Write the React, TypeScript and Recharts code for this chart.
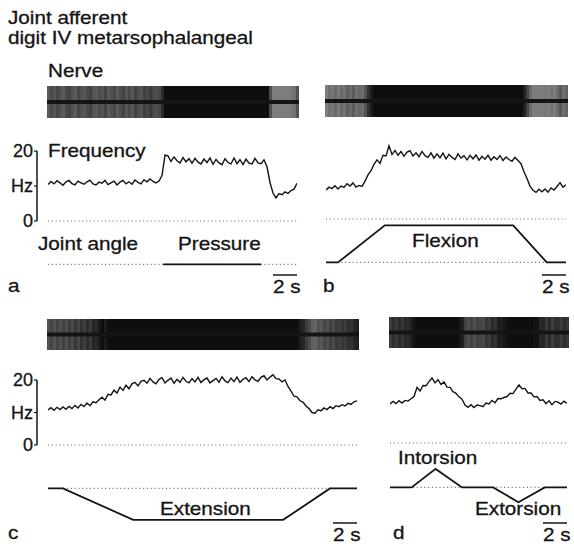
import React from "react";
import {
  LineChart,
  Line,
  XAxis,
  YAxis,
  ReferenceLine,
  ReferenceArea,
  BarChart,
  Bar,
  Cell,
} from "recharts";

// time base: one frequency sample every STEP seconds
const STEP = 0.25;
const PX_PER_S = 12;
const DEG_PX = 1.85;
const INK = "#141414";
const DOTS = "#7c7c7c";
const FONT = "'Liberation Sans', Arial, Helvetica, sans-serif";

// instantaneous frequency (Hz)
const freqA = [
  10.4, 11.3, 10.6, 11.5, 10.9, 10.2, 11.2, 11.6, 10.7, 10.3, 11.4, 10.9, 10.5, 11.2, 11.7, 10.6,
  10.3, 11.1, 10.8, 11.6, 10.4, 10.9, 11.4, 10.3, 11.1, 11.6, 10.6, 11.2, 10.5, 11.7, 11.0, 10.6,
  11.8, 11.2, 12.0, 11.3, 10.9, 11.4, 13.0, 18.8, 18.6, 17.0, 18.3, 17.2, 16.6, 18.1, 16.9, 17.8,
  16.5, 17.9, 16.8, 16.3, 17.7, 16.7, 18.0, 16.2, 17.6, 16.6, 16.1, 17.8, 16.7, 16.3, 18.0, 16.4,
  17.5, 16.1, 17.7, 16.5, 16.3, 17.9, 16.6, 16.4, 17.5, 15.5, 11.0, 8.0, 6.6, 7.8, 7.5, 8.3,
  7.9, 8.7, 9.1, 10.8,
];
const freqB = [
  8.3, 9.1, 8.7, 9.5, 8.6, 9.4, 9.0, 10.1, 9.4, 10.3, 9.1, 9.6, 9.3, 10.8, 12.6, 13.8, 15.6, 16.9,
  15.9, 18.2, 18.0, 20.9, 18.4, 19.6, 18.2, 19.3, 17.9, 19.1, 19.5, 18.0, 18.9, 17.8, 19.3, 18.1,
  17.6, 18.9, 17.4, 18.6, 17.5, 18.8, 17.2, 18.5, 17.6, 17.0, 18.6, 17.4, 18.1, 16.9, 18.2, 17.2,
  18.3, 16.8, 17.9, 17.1, 18.2, 16.8, 17.8, 17.0, 18.1, 16.7, 17.7, 17.0, 16.5, 17.6, 16.7, 15.8,
  13.5, 11.6, 9.4, 8.2, 7.6, 8.5, 7.8, 8.6, 7.7, 8.9, 8.3, 9.3, 10.4, 9.1, 9.8,
];
const freqC = [
  10.8, 11.5, 10.7, 11.6, 10.9, 11.7, 11.0, 11.9, 11.2, 12.2, 11.4, 12.5, 11.8, 12.9, 12.1, 13.3,
  13.0, 13.9, 14.7, 13.8, 15.6, 15.4, 16.9, 16.0, 17.8, 16.8, 18.4, 17.3, 18.8, 19.3, 18.2, 19.6,
  19.9, 19.0, 20.5, 19.4, 18.8, 20.2, 20.7, 19.1, 19.9, 20.6, 19.0, 20.2, 19.3, 20.8, 19.6, 19.1,
  20.4, 19.4, 20.8, 19.2, 20.1, 20.6, 19.1, 19.8, 20.5, 19.3, 21.0, 19.7, 19.2, 20.6, 19.5, 20.9,
  19.3, 20.2, 20.7, 19.5, 21.0, 20.0, 19.6, 20.8, 21.3, 20.0, 20.9, 21.6, 20.4, 20.3, 19.4, 20.0,
  18.0, 16.6, 15.0, 14.8, 13.6, 13.2, 12.0, 11.2, 10.0, 9.8, 10.8, 10.5, 11.4, 10.9, 11.8, 11.2,
  12.1, 11.8, 12.4, 12.0, 12.8, 12.5, 13.3, 13.6,
];
const freqD = [
  12.0, 12.8, 12.1, 13.0, 12.3, 13.1, 12.9, 13.6, 14.3, 17.1, 16.0, 17.7, 17.6, 18.9, 20.0, 18.5,
  19.5, 18.0, 18.8, 17.2, 17.1, 15.8, 15.3, 14.2, 13.5, 11.7, 11.0, 11.8, 10.9, 11.7, 11.5, 11.2,
  12.3, 12.0, 13.1, 12.4, 13.7, 13.6, 14.0, 14.3, 15.3, 15.2, 16.6, 17.9, 16.7, 16.8, 15.4, 15.4,
  14.2, 14.3, 13.1, 13.3, 12.1, 13.0, 11.8, 12.8, 12.6, 12.0, 12.9, 12.2,
];

// joint movements: breakpoints (s) and angle (deg, + flexion / intorsion)
const pressureT = [9.6, 17.75];
const pressureDeg = [0, 0];
const flexionT = [0, 1.0, 4.9, 15.6, 18.4, 20.0];
const flexionDeg = [0, 0, 20, 20, 0, 0];
const extensionT = [0, 1.25, 7.1, 19.6, 23.5, 25.75];
const extensionDeg = [0, 0, -17, -17, 0, 0];
const torsionT = [0, 1.8, 3.8, 6.0, 8.6, 10.7, 12.9, 14.75];
const torsionDeg = [0, 0, 10, 0, 0, -8, 0, 0];

const HZ_TICKS = [0, 10, 20];

const sampled = (vals: number[]) => vals.map((v, i) => ({ t: i * STEP, v }));
const pairs = (ts: number[], vs: number[]) => ts.map((t, i) => ({ t, v: vs[i] }));
const span = (vals: number[]) => (vals.length - 1) * STEP;

// darker band where the unit fires faster
const grey = (hz: number) => {
  const l = Math.max(14, Math.min(125, Math.round(132 - (hz - 8) * 18)));
  return `rgb(${l},${l},${l})`;
};

const noMargin = { top: 0, right: 0, bottom: 0, left: 0 };

function Nerve({ id, x, top, h, rates }: { id: string; x: number; top: number; h: number; rates: number[] }) {
  const bw = STEP * PX_PER_S;
  const data = rates.map((r, i) => ({ t: i * STEP, r, amp: [-1, 1] }));
  return (
    <div style={{ position: "absolute", left: x - bw / 2, top }}>
      <BarChart width={rates.length * bw} height={h} data={data} margin={noMargin} barCategoryGap={0} barGap={0}>
        <defs>
          <pattern id={`st-${id}`} patternUnits="userSpaceOnUse" width={9} height={6}>
            <rect x={0} y={0} width={1} height={6} fill="#000" fillOpacity={0.6} />
            <rect x={2} y={0} width={1} height={6} fill="#fff" fillOpacity={0.3} />
            <rect x={3} y={0} width={1} height={6} fill="#000" fillOpacity={0.45} />
            <rect x={5} y={0} width={1} height={6} fill="#fff" fillOpacity={0.22} />
            <rect x={6} y={0} width={2} height={6} fill="#000" fillOpacity={0.4} />
            <rect x={8} y={0} width={1} height={6} fill="#fff" fillOpacity={0.3} />
          </pattern>
          <linearGradient id={`ed-${id}`} x1="0" y1="0" x2="0" y2="1">
            <stop offset="0%" stopColor="#fff" stopOpacity={0.5} />
            <stop offset="16%" stopColor="#fff" stopOpacity={0} />
            <stop offset="84%" stopColor="#fff" stopOpacity={0} />
            <stop offset="100%" stopColor="#fff" stopOpacity={0.5} />
          </linearGradient>
        </defs>
        <XAxis hide dataKey="t" />
        <YAxis hide domain={[-1, 1]} />
        <Bar dataKey="amp" isAnimationActive={false}>
          {data.map((d, i) => (
            <Cell key={i} fill={grey(d.r)} />
          ))}
        </Bar>
        <ReferenceArea y1={-1} y2={1} fill={`url(#st-${id})`} fillOpacity={1} />
        <ReferenceArea y1={-1} y2={1} fill={`url(#ed-${id})`} fillOpacity={1} />
        <ReferenceLine y={0} stroke={INK} strokeWidth={4} />
      </BarChart>
    </div>
  );
}

function Trace({
  x, y0, dur, lo, hi, ppu, data, width,
}: { x: number; y0: number; dur: number; lo: number; hi: number; ppu: number; data: { t: number; v: number }[]; width: number }) {
  return (
    <div style={{ position: "absolute", left: x, top: y0 - hi * ppu }}>
      <LineChart width={dur * PX_PER_S} height={(hi - lo) * ppu} data={data} margin={noMargin}>
        <XAxis hide type="number" dataKey="t" domain={[0, dur]} />
        <YAxis hide domain={[lo, hi]} />
        <ReferenceLine y={0} stroke={DOTS} strokeWidth={1.2} strokeDasharray="1.2 2.6" />
        <Line
          type="linear"
          dataKey="v"
          stroke={INK}
          strokeWidth={width}
          dot={false}
          isAnimationActive={false}
        />
      </LineChart>
    </div>
  );
}

function HzAxis({ y0, ppu }: { y0: number; ppu: number }) {
  const pad = 12;
  return (
    <div style={{ position: "absolute", left: 0, top: y0 - 20 * ppu - pad }}>
      <LineChart
        width={40}
        height={20 * ppu + 2 * pad}
        data={HZ_TICKS.map((v) => ({ v }))}
        margin={{ top: pad, bottom: pad, left: 0, right: 3 }}
      >
        <XAxis hide dataKey="v" />
        <YAxis
          dataKey="v"
          width={37}
          type="number"
          domain={[0, 20]}
          ticks={HZ_TICKS}
          interval={0}
          tickSize={3}
          tickMargin={1}
          tickFormatter={(v: number) => (v === 10 ? "Hz" : String(v))}
          axisLine={{ stroke: INK, strokeWidth: 1.5 }}
          tickLine={{ stroke: INK, strokeWidth: 1.2 }}
          tick={{ fill: INK, fontSize: 18, fontFamily: FONT, stroke: INK, strokeWidth: 0.3 }}
        />
      </LineChart>
    </div>
  );
}

const Label = ({ x, y, children }: { x: number; y: number; children: React.ReactNode }) => (
  <text
    transform={`translate(${x},${y}) scale(1.15,1)`}
    fontSize={18}
    fill={INK}
    stroke={INK}
    strokeWidth={0.3}
  >
    {children}
  </text>
);

const ScaleBar = ({ end, y }: { end: number; y: number }) => {
  const len = 2 * PX_PER_S;
  return (
    <g>
      <line x1={end - len} x2={end} y1={y} y2={y} stroke={INK} strokeWidth={1.5} />
      <Label x={end - len} y={y + 18}>2 s</Label>
    </g>
  );
};

export default function App() {
  const durA = span(freqA);
  const durB = span(freqB);
  const durC = span(freqC);
  const durD = span(freqD);
  return (
    <div
      style={{
        position: "absolute",
        left: 0,
        top: 0,
        width: 574,
        height: 544,
        background: "#fff",
        fontFamily: FONT,
        overflow: "hidden",
      }}
    >
      {/* a: pressure */}
      <Nerve id="a" x={48} top={86} h={32} rates={freqA} />
      <HzAxis y0={221} ppu={3.5} />
      <Trace x={48} y0={221} dur={durA} lo={-2} hi={24} ppu={3.5} data={sampled(freqA)} width={1.4} />
      <Trace x={48} y0={264} dur={durA} lo={-20} hi={24} ppu={DEG_PX} data={pairs(pressureT, pressureDeg)} width={1.8} />

      {/* b: flexion */}
      <Nerve id="b" x={326} top={85} h={32} rates={freqB} />
      <Trace x={326} y0={219} dur={durB} lo={-2} hi={24} ppu={3.5} data={sampled(freqB)} width={1.4} />
      <Trace x={326} y0={262} dur={durB} lo={-20} hi={24} ppu={DEG_PX} data={pairs(flexionT, flexionDeg)} width={1.8} />

      {/* c: extension */}
      <Nerve id="c" x={48} top={319} h={31} rates={freqC} />
      <HzAxis y0={445} ppu={3.25} />
      <Trace x={48} y0={445} dur={durC} lo={-2} hi={24} ppu={3.25} data={sampled(freqC)} width={1.4} />
      <Trace x={48} y0={488} dur={durC} lo={-20} hi={24} ppu={DEG_PX} data={pairs(extensionT, extensionDeg)} width={1.8} />

      {/* d: torsion */}
      <Nerve id="d" x={390} top={317} h={31} rates={freqD} />
      <Trace x={390} y0={443} dur={durD} lo={-2} hi={24} ppu={3.25} data={sampled(freqD)} width={1.4} />
      <Trace x={390} y0={487} dur={durD} lo={-20} hi={24} ppu={DEG_PX} data={pairs(torsionT, torsionDeg)} width={1.8} />

      <svg width={574} height={544} style={{ position: "absolute", left: 0, top: 0, pointerEvents: "none" }} fontFamily={FONT}>
        <Label x={8} y={24}>Joint afferent</Label>
        <Label x={8} y={44}>digit IV metarsophalangeal</Label>
        <Label x={48} y={77}>Nerve</Label>
        <Label x={48} y={157}>Frequency</Label>
        <Label x={38} y={250}>Joint angle</Label>
        <Label x={178} y={250}>Pressure</Label>
        <Label x={8} y={292}>a</Label>
        <ScaleBar end={48 + durA * PX_PER_S} y={275} />

        <Label x={323} y={292}>b</Label>
        <Label x={412} y={247}>Flexion</Label>
        <ScaleBar end={326 + durB * PX_PER_S} y={275} />

        <Label x={160} y={515}>Extension</Label>
        <Label x={8} y={539}>c</Label>
        <ScaleBar end={48 + durC * PX_PER_S} y={523} />

        <Label x={398} y={464}>Intorsion</Label>
        <Label x={475} y={515}>Extorsion</Label>
        <Label x={393} y={539}>d</Label>
        <ScaleBar end={390 + durD * PX_PER_S} y={523} />
      </svg>
    </div>
  );
}
